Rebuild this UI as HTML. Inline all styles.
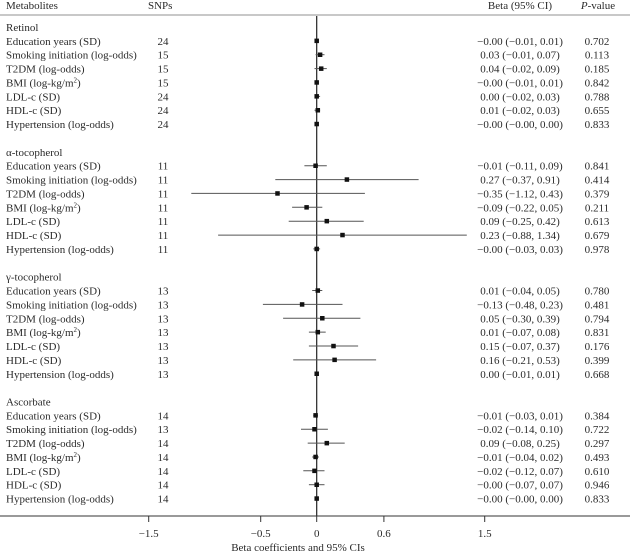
<!DOCTYPE html>
<html><head><meta charset="utf-8"><style>
html,body{margin:0;padding:0;background:#fff;}
svg{display:block;}
text{font-family:"Liberation Serif",serif;font-size:11px;fill:#2a2a2a;}
</style></head><body>
<svg width="630" height="553" viewBox="0 0 630 553" xmlns="http://www.w3.org/2000/svg">
<!-- header -->
<text x="6" y="9">Metabolites</text>
<text x="148" y="9">SNPs</text>
<text x="520" y="9" text-anchor="middle">Beta (95% CI)</text>
<text x="598" y="9" text-anchor="middle"><tspan font-style="italic">P</tspan>-value</text>
<line x1="0" y1="15" x2="630" y2="15" stroke="#c8c8c8" stroke-width="2"/>
<!-- zero line -->
<line x1="316.7" y1="16" x2="316.7" y2="516" stroke="#222" stroke-width="1.2"/>
<!-- axis -->
<line x1="0" y1="516" x2="630" y2="516" stroke="#333" stroke-width="1"/>
<g stroke="#333" stroke-width="1">
<line x1="148.7" y1="516" x2="148.7" y2="522"/>
<line x1="260.7" y1="516" x2="260.7" y2="522"/>
<line x1="316.7" y1="516" x2="316.7" y2="522"/>
<line x1="383.9" y1="516" x2="383.9" y2="522"/>
<line x1="484.7" y1="516" x2="484.7" y2="522"/>
</g>
<text x="148.7" y="537" text-anchor="middle">−1.5</text>
<text x="260.7" y="537" text-anchor="middle">−0.5</text>
<text x="316.7" y="537" text-anchor="middle">0</text>
<text x="383.9" y="537" text-anchor="middle">0.6</text>
<text x="484.7" y="537" text-anchor="middle">1.5</text>
<text x="298" y="551" text-anchor="middle">Beta coefficients and 95% CIs</text>

<!-- left labels -->
<g>
<text x="6" y="31">Retinol</text>
<text x="6" y="44.9">Education years (SD)</text>
<text x="6" y="58.7">Smoking initiation (log-odds)</text>
<text x="6" y="72.6">T2DM (log-odds)</text>
<text x="6" y="86.5">BMI (log-kg/m<tspan font-size="7" dy="-4">2</tspan><tspan dy="4">)</tspan></text>
<text x="6" y="100.4">LDL-c (SD)</text>
<text x="6" y="114.2">HDL-c (SD)</text>
<text x="6" y="128.1">Hypertension (log-odds)</text>

<text x="6" y="155.8">α-tocopherol</text>
<text x="6" y="169.7">Education years (SD)</text>
<text x="6" y="183.6">Smoking initiation (log-odds)</text>
<text x="6" y="197.4">T2DM (log-odds)</text>
<text x="6" y="211.3">BMI (log-kg/m<tspan font-size="7" dy="-4">2</tspan><tspan dy="4">)</tspan></text>
<text x="6" y="225.2">LDL-c (SD)</text>
<text x="6" y="239.1">HDL-c (SD)</text>
<text x="6" y="252.9">Hypertension (log-odds)</text>

<text x="6" y="280.7">γ-tocopherol</text>
<text x="6" y="294.5">Education years (SD)</text>
<text x="6" y="308.4">Smoking initiation (log-odds)</text>
<text x="6" y="322.3">T2DM (log-odds)</text>
<text x="6" y="336.1">BMI (log-kg/m<tspan font-size="7" dy="-4">2</tspan><tspan dy="4">)</tspan></text>
<text x="6" y="350">LDL-c (SD)</text>
<text x="6" y="363.9">HDL-c (SD)</text>
<text x="6" y="377.8">Hypertension (log-odds)</text>

<text x="6" y="405.5">Ascorbate</text>
<text x="6" y="419.4">Education years (SD)</text>
<text x="6" y="433.2">Smoking initiation (log-odds)</text>
<text x="6" y="447.1">T2DM (log-odds)</text>
<text x="6" y="461">BMI (log-kg/m<tspan font-size="7" dy="-4">2</tspan><tspan dy="4">)</tspan></text>
<text x="6" y="474.8">LDL-c (SD)</text>
<text x="6" y="488.7">HDL-c (SD)</text>
<text x="6" y="502.6">Hypertension (log-odds)</text>
</g>

<!-- SNPs -->
<g text-anchor="middle">
<text x="163" y="44.9">24</text><text x="163" y="58.7">15</text><text x="163" y="72.6">15</text><text x="163" y="86.5">15</text><text x="163" y="100.4">24</text><text x="163" y="114.2">24</text><text x="163" y="128.1">24</text>
<text x="163" y="169.7">11</text><text x="163" y="183.6">11</text><text x="163" y="197.4">11</text><text x="163" y="211.3">11</text><text x="163" y="225.2">11</text><text x="163" y="239.1">11</text><text x="163" y="252.9">11</text>
<text x="163" y="294.5">13</text><text x="163" y="308.4">13</text><text x="163" y="322.3">13</text><text x="163" y="336.1">13</text><text x="163" y="350">13</text><text x="163" y="363.9">13</text><text x="163" y="377.8">13</text>
<text x="163" y="419.4">14</text><text x="163" y="433.2">13</text><text x="163" y="447.1">14</text><text x="163" y="461">14</text><text x="163" y="474.8">14</text><text x="163" y="488.7">14</text><text x="163" y="502.6">14</text>
</g>

<!-- Beta column -->
<g text-anchor="middle">
<text x="520" y="44.9">−0.00 (−0.01, 0.01)</text>
<text x="520" y="58.7">0.03 (−0.01, 0.07)</text>
<text x="520" y="72.6">0.04 (−0.02, 0.09)</text>
<text x="520" y="86.5">−0.00 (−0.01, 0.01)</text>
<text x="520" y="100.4">0.00 (−0.02, 0.03)</text>
<text x="520" y="114.2">0.01 (−0.02, 0.03)</text>
<text x="520" y="128.1">−0.00 (−0.00, 0.00)</text>

<text x="520" y="169.7">−0.01 (−0.11, 0.09)</text>
<text x="520" y="183.6">0.27 (−0.37, 0.91)</text>
<text x="520" y="197.4">−0.35 (−1.12, 0.43)</text>
<text x="520" y="211.3">−0.09 (−0.22, 0.05)</text>
<text x="520" y="225.2">0.09 (−0.25, 0.42)</text>
<text x="520" y="239.1">0.23 (−0.88, 1.34)</text>
<text x="520" y="252.9">−0.00 (−0.03, 0.03)</text>

<text x="520" y="294.5">0.01 (−0.04, 0.05)</text>
<text x="520" y="308.4">−0.13 (−0.48, 0.23)</text>
<text x="520" y="322.3">0.05 (−0.30, 0.39)</text>
<text x="520" y="336.1">0.01 (−0.07, 0.08)</text>
<text x="520" y="350">0.15 (−0.07, 0.37)</text>
<text x="520" y="363.9">0.16 (−0.21, 0.53)</text>
<text x="520" y="377.8">0.00 (−0.01, 0.01)</text>

<text x="520" y="419.4">−0.01 (−0.03, 0.01)</text>
<text x="520" y="433.2">−0.02 (−0.14, 0.10)</text>
<text x="520" y="447.1">0.09 (−0.08, 0.25)</text>
<text x="520" y="461">−0.01 (−0.04, 0.02)</text>
<text x="520" y="474.8">−0.02 (−0.12, 0.07)</text>
<text x="520" y="488.7">−0.00 (−0.07, 0.07)</text>
<text x="520" y="502.6">−0.00 (−0.00, 0.00)</text>
</g>

<!-- P-values -->
<g text-anchor="middle">
<text x="597" y="44.9">0.702</text><text x="597" y="58.7">0.113</text><text x="597" y="72.6">0.185</text><text x="597" y="86.5">0.842</text><text x="597" y="100.4">0.788</text><text x="597" y="114.2">0.655</text><text x="597" y="128.1">0.833</text>
<text x="597" y="169.7">0.841</text><text x="597" y="183.6">0.414</text><text x="597" y="197.4">0.379</text><text x="597" y="211.3">0.211</text><text x="597" y="225.2">0.613</text><text x="597" y="239.1">0.679</text><text x="597" y="252.9">0.978</text>
<text x="597" y="294.5">0.780</text><text x="597" y="308.4">0.481</text><text x="597" y="322.3">0.794</text><text x="597" y="336.1">0.831</text><text x="597" y="350">0.176</text><text x="597" y="363.9">0.399</text><text x="597" y="377.8">0.668</text>
<text x="597" y="419.4">0.384</text><text x="597" y="433.2">0.722</text><text x="597" y="447.1">0.297</text><text x="597" y="461">0.493</text><text x="597" y="474.8">0.610</text><text x="597" y="488.7">0.946</text><text x="597" y="502.6">0.833</text>
</g>

<!-- CI lines -->
<g stroke="#555" stroke-width="1">
<line x1="315.6" y1="40.9" x2="317.8" y2="40.9"/>
<line x1="315.6" y1="54.7" x2="324.5" y2="54.7"/>
<line x1="314.5" y1="68.6" x2="326.8" y2="68.6"/>
<line x1="315.6" y1="82.5" x2="317.8" y2="82.5"/>
<line x1="314.5" y1="96.4" x2="320.1" y2="96.4"/>
<line x1="314.5" y1="110.2" x2="320.1" y2="110.2"/>

<line x1="304.4" y1="165.7" x2="326.8" y2="165.7"/>
<line x1="275.3" y1="179.6" x2="418.6" y2="179.6"/>
<line x1="191.3" y1="193.4" x2="364.9" y2="193.4"/>
<line x1="292.1" y1="207.3" x2="322.3" y2="207.3"/>
<line x1="288.7" y1="221.2" x2="363.7" y2="221.2"/>
<line x1="218.1" y1="235.1" x2="466.8" y2="235.1"/>
<line x1="313.3" y1="248.9" x2="320.1" y2="248.9"/>

<line x1="312.2" y1="290.5" x2="322.3" y2="290.5"/>
<line x1="262.9" y1="304.4" x2="342.5" y2="304.4"/>
<line x1="283.1" y1="318.3" x2="360.4" y2="318.3"/>
<line x1="308.9" y1="332.1" x2="325.7" y2="332.1"/>
<line x1="308.9" y1="346" x2="358.1" y2="346"/>
<line x1="293.2" y1="359.9" x2="376.1" y2="359.9"/>
<line x1="315.6" y1="373.8" x2="317.8" y2="373.8"/>

<line x1="313.3" y1="415.4" x2="317.8" y2="415.4"/>
<line x1="301.0" y1="429.2" x2="327.9" y2="429.2"/>
<line x1="307.7" y1="443.1" x2="344.7" y2="443.1"/>
<line x1="312.2" y1="457" x2="318.9" y2="457"/>
<line x1="303.3" y1="470.8" x2="324.5" y2="470.8"/>
<line x1="308.9" y1="484.7" x2="324.5" y2="484.7"/>
</g>

<!-- markers -->
<g fill="#111">
<rect x="314.45" y="38.6" width="4.5" height="4.5"/>
<rect x="317.85" y="52.5" width="4.5" height="4.5"/>
<rect x="318.95" y="66.4" width="4.5" height="4.5"/>
<rect x="314.45" y="80.2" width="4.5" height="4.5"/>
<rect x="314.45" y="94.1" width="4.5" height="4.5"/>
<rect x="315.55" y="108" width="4.5" height="4.5"/>
<rect x="314.45" y="121.8" width="4.5" height="4.5"/>

<rect x="313.35" y="163.5" width="4.5" height="4.5"/>
<rect x="344.65" y="177.3" width="4.5" height="4.5"/>
<rect x="275.25" y="191.2" width="4.5" height="4.5"/>
<rect x="304.35" y="205.1" width="4.5" height="4.5"/>
<rect x="324.55" y="218.9" width="4.5" height="4.5"/>
<rect x="340.25" y="232.8" width="4.5" height="4.5"/>
<rect x="314.45" y="246.7" width="4.5" height="4.5"/>

<rect x="315.55" y="288.3" width="4.5" height="4.5"/>
<rect x="299.85" y="302.2" width="4.5" height="4.5"/>
<rect x="320.05" y="316" width="4.5" height="4.5"/>
<rect x="315.55" y="329.9" width="4.5" height="4.5"/>
<rect x="331.25" y="343.8" width="4.5" height="4.5"/>
<rect x="332.35" y="357.6" width="4.5" height="4.5"/>
<rect x="314.45" y="371.5" width="4.5" height="4.5"/>

<rect x="313.35" y="413.1" width="4.5" height="4.5"/>
<rect x="312.25" y="427" width="4.5" height="4.5"/>
<rect x="324.55" y="440.9" width="4.5" height="4.5"/>
<rect x="313.35" y="454.7" width="4.5" height="4.5"/>
<rect x="312.25" y="468.6" width="4.5" height="4.5"/>
<rect x="314.45" y="482.5" width="4.5" height="4.5"/>
<rect x="314.45" y="496.3" width="4.5" height="4.5"/>
</g>
</svg>
</body></html>
